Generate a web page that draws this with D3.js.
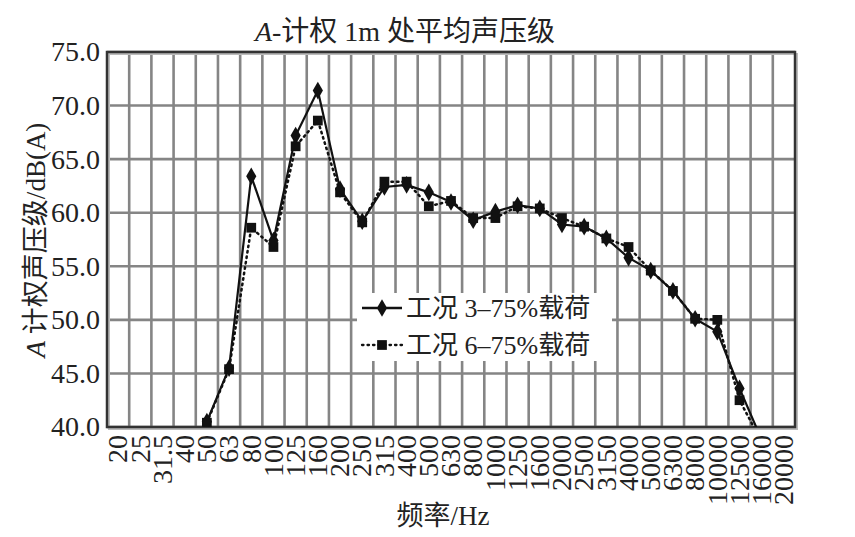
<!DOCTYPE html>
<html><head><meta charset="utf-8">
<script src="https://cdn.jsdelivr.net/npm/d3@7"></script>
<style>
html,body{margin:0;padding:0;background:#fff;}
text{font-family:"Liberation Serif","Noto Sans CJK SC",serif;fill:#222;}
</style></head>
<body><svg id="c" width="855" height="537"></svg>
<script>
const categories = ["20","25","31.5","40","50","63","80","100","125","160","200","250","315","400","500","630","800","1000","1250","1600","2000","2500","3150","4000","5000","6300","8000","10000","12500","16000","20000"];
const series3 = [null,null,null,null,40.5,45.5,63.4,57.4,67.2,71.4,62.2,59.2,62.4,62.6,61.9,61.0,59.3,60.1,60.7,60.4,58.9,58.7,57.6,55.8,54.6,52.7,50.1,48.9,43.6,38.8,null];
const series6 = [null,null,null,null,40.4,45.4,58.6,56.8,66.2,68.6,61.9,59.1,62.9,62.9,60.6,61.1,59.5,59.5,60.6,60.4,59.5,58.7,57.6,56.8,54.6,52.7,50.1,50.0,42.5,38.6,null];
const yTicks = [40,45,50,55,60,65,70,75];
const legendNames = ["工况 3–75%载荷","工况 6–75%载荷"];

const svg = d3.select("#c");
const L=107, R=795, T=52, B=427;
const x = d3.scaleBand().domain(categories).range([L,R]).padding(0);
const y = d3.scaleLinear().domain([40,75]).range([B,T]);

// gridlines
const grid = svg.append("g");
categories.forEach((c,i)=>{ if(i>0) grid.append("line").attr("x1",x(c)).attr("x2",x(c)).attr("y1",T).attr("y2",B).attr("stroke","#858585").attr("stroke-width",2.6); });
yTicks.forEach(t=>{ grid.append("line").attr("x1",L).attr("x2",R).attr("y1",y(t)).attr("y2",y(t)).attr("stroke","#858585").attr("stroke-width",2.6); });

// border shadow + border
svg.append("rect").attr("x",L+2).attr("y",T+2).attr("width",R-L).attr("height",B-T).attr("fill","none").attr("stroke","#bbb").attr("stroke-width",2);
svg.append("rect").attr("x",L).attr("y",T).attr("width",R-L).attr("height",B-T).attr("fill","none").attr("stroke","#333").attr("stroke-width",2.5);

// clip
svg.append("defs").append("clipPath").attr("id","pc").append("rect").attr("x",L).attr("y",T).attr("width",R-L).attr("height",B-T);

const cx = c => x(c)+x.bandwidth()/2;
function pts(arr){ return categories.map((c,i)=>({c,v:arr[i]})).filter(d=>d.v!=null); }
const line = d3.line().x(d=>cx(d.c)).y(d=>y(d.v));
const plot = svg.append("g").attr("clip-path","url(#pc)");

// series 6 dotted squares
plot.append("path").datum(pts(series6)).attr("d",line).attr("fill","none").attr("stroke","#111").attr("stroke-width",2.5).attr("stroke-dasharray","1.5,4").attr("stroke-linecap","round");
plot.selectAll(".sq").data(pts(series6).filter(d=>d.v>=40)).join("path").attr("transform",d=>`translate(${cx(d.c)},${y(d.v)})`).attr("d",d3.symbol(d3.symbolSquare,95)).attr("fill","#111");
// series 3 solid diamonds
plot.append("path").datum(pts(series3)).attr("d",line).attr("fill","none").attr("stroke","#111").attr("stroke-width",2.2);
plot.selectAll(".dm").data(pts(series3).filter(d=>d.v>=40)).join("path").attr("transform",d=>`translate(${cx(d.c)},${y(d.v)})`).attr("d",d3.symbol(d3.symbolDiamond,90)).attr("fill","#111");

// y axis labels
const ya = svg.append("g").attr("transform",`translate(${L},0)`).call(d3.axisLeft(y).tickValues(yTicks).tickSize(0).tickPadding(7).tickFormat(d3.format(".1f")));
ya.select(".domain").remove();
ya.selectAll("text").style("font-family","Liberation Serif").style("font-size","28px").attr("fill","#222");

// x axis labels
const xa = svg.append("g").attr("transform",`translate(0,${B})`).call(d3.axisBottom(x).tickSize(0));
xa.select(".domain").remove();
xa.selectAll("text").style("font-family","Liberation Serif").style("font-size","28px").attr("fill","#222")
  .attr("text-anchor","end").attr("transform","rotate(-90)").attr("x",-8).attr("y",0).attr("dy","0.33em");

// title
const tt = svg.append("text").attr("x",405).attr("y",41).attr("text-anchor","middle").style("font-size","28px");
tt.append("tspan").style("font-style","italic").text("A");
tt.append("tspan").text("-计权 1m 处平均声压级");

// y title
const yt = svg.append("text").attr("transform","translate(45,240) rotate(-90)").attr("text-anchor","middle").style("font-size","27px");
yt.append("tspan").style("font-style","italic").text("A");
yt.append("tspan").text(" 计权声压级/dB(A)");

// x title
svg.append("text").attr("x",443).attr("y",525).attr("text-anchor","middle").style("font-size","27px").text("频率/Hz");

// legend
const lg = svg.append("g");
lg.append("rect").attr("x",357).attr("y",293).attr("width",255).attr("height",68).attr("fill","#fff");
const rows=[{y:308,dash:null,sym:d3.symbolDiamond,sz:90},{y:345,dash:"1.5,4",sym:d3.symbolSquare,sz:95}];
rows.forEach((r,i)=>{
  lg.append("line").attr("x1",362).attr("x2",402).attr("y1",r.y).attr("y2",r.y).attr("stroke","#111").attr("stroke-width",2.3).attr("stroke-dasharray",r.dash).attr("stroke-linecap",r.dash?"round":"butt");
  lg.append("path").attr("transform",`translate(382,${r.y})`).attr("d",d3.symbol(r.sym,r.sz)).attr("fill","#111");
  lg.append("text").attr("x",406).attr("y",r.y).attr("dy","0.36em").style("font-size","26px").text(legendNames[i]);
});
</script></body></html>
